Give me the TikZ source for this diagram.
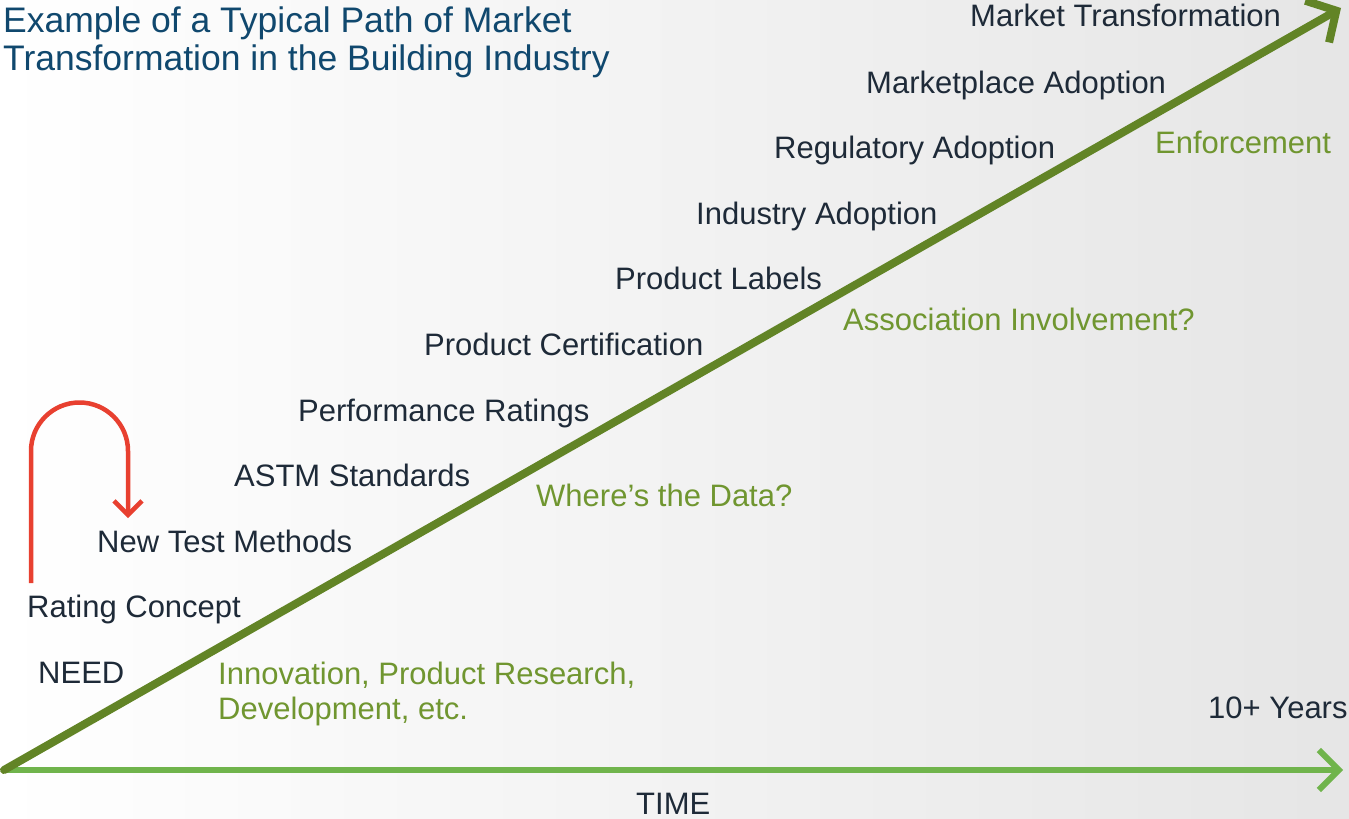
\documentclass[tikz,border=0pt]{standalone}
\usepackage{fontspec}
\setmainfont{Liberation Sans}
\usetikzlibrary{arrows.meta}
\definecolor{inktext}{RGB}{30,42,56}
\definecolor{titleblue}{RGB}{16,72,110}
\definecolor{notegreen}{RGB}{112,150,48}
\definecolor{pathgreen}{RGB}{98,132,38}
\definecolor{timegreen}{RGB}{112,180,76}
\definecolor{loopred}{RGB}{232,64,48}
\tikzset{
  stage/.style = {inktext, font=\fontsize{31}{35}\selectfont, anchor=base west, inner sep=0mm},
  note/.style = {stage, text=notegreen},
  axis/.style = {draw=#1, line cap=round},
  loop/.style = {draw=loopred, line width=4.5, -{Straight Barb[length=14pt,width=28pt]}}
}

\begin{document}
\begin{tikzpicture}[x=1pt,y=-1pt]
  \useasboundingbox (0,0) rectangle (1349,819);
  \shade[left color=white, right color=gray!20] (0,0) rectangle (1349,819);
  % title
  \node[titleblue, font=\fontsize{35.5}{38}\selectfont, anchor=base west, inner sep=0mm, align=left] (title) at (3,70)
    {Example of a Typical Path of Market\\Transformation in the Building Industry};
  % axes
  \coordinate (origin) at (4,770);
  \coordinate (top) at (1341,8);
  \coordinate (timeend) at (1343,770);
  \draw[axis=timegreen, line width=6, -{Straight Barb[length=20pt,width=40pt]}] (origin) -- (timeend);
  \draw[axis=pathgreen, line width=8, -{Straight Barb[length=22pt,width=48pt]}] (origin) -- (top);
  % stages along the path
  \foreach \m/\xi/\yi in {Market Transformation/970/27,Marketplace Adoption/866/93,
    Regulatory Adoption/774/158,Industry Adoption/696/224,Product Labels/615/289,
    Product Certification/424/355,Performance Ratings/298/421,ASTM Standards/234/486,
    New Test Methods/97/552,Rating Concept/27/617,NEED/38/683}{
    \node[stage] (s\yi) at (\xi,\yi) {\m};
  }
  % notes
  \node[note] (enforce) at (1155,153) {Enforcement};
  \node[note] (assoc) at (843,330) {Association Involvement?};
  \node[note] (data) at (536,506) {Where’s the Data?};
  \node[note, align=left] (innov) at (218,719) {Innovation, Product Research,\\Development, etc.};
  \node[stage] (years) at (1208,718) {10+ Years};
  \node[stage] (time) at (636,814) {TIME};
  % loop back
  \coordinate (loopstart) at (31,583);
  \coordinate (loopend) at (128,518);
  \draw[loop] (loopstart) -- (31,451) arc[start angle=180, end angle=0, radius=48.5pt] -- (loopend);
\end{tikzpicture}
\end{document}
